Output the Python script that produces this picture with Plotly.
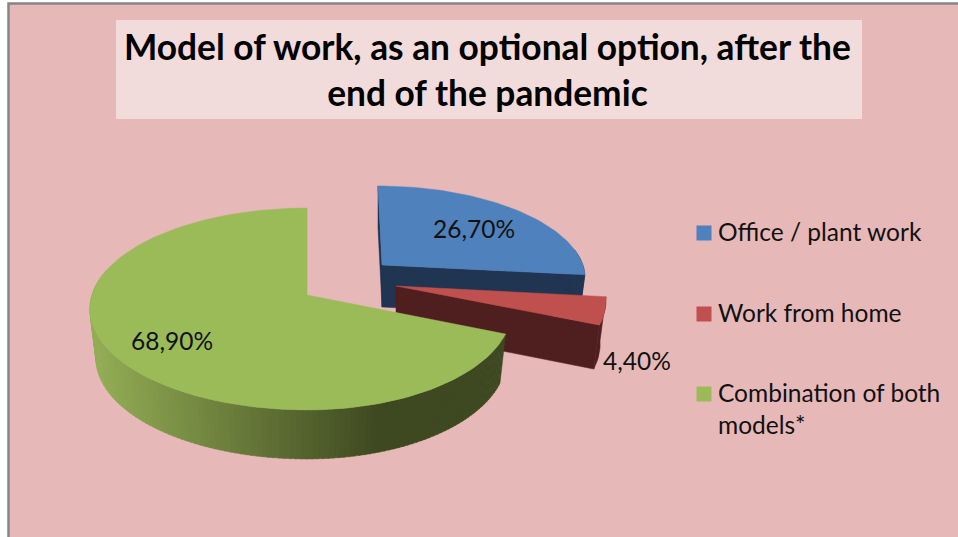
import math
import plotly.graph_objects as go

# ---- data ----
categories = ["Office / plant work", "Work from home", "Combination of both<br>models*"]
values = [26.7, 4.4, 68.9]
title_text = "Model of work, as an optional option, after the<br>end of the pandemic"

# ---- style ----
FONT = "Lato"
TOP = ["#4F81BD", "#C0504D", "#9BBB59"]
WALL = ["#1F3552", "#4F1E1E", "#3F4A21"]
GRAD_L = (146, 173, 84)
GRAD_R = (63, 73, 33)
GEOM = [
    dict(cx=382, cy=265, rxl=201, rxr=201, ry=90, lean=4, drop=42),
    dict(cx=396, cy=286, rxl=208, rxr=208, ry=99, lean=0, drop=44),
    dict(cx=307, cy=295, rxl=215, rxr=203, ry=99, lean=0, drop=49),
]
K = 0.1387
SHRINK = 0.972


def proj(theta, g, down=0.0):
    t = math.radians(theta)
    u, v = math.sin(t), math.cos(t)
    w = 1 + K * v
    rx = g["rxl"] if u < 0 else g["rxr"]
    if down:
        rx *= SHRINK
    return g["cx"] + rx * u / w - g["lean"] * max(v, 0), g["cy"] - g["ry"] * v / w + down


def arc(a, b, g, down=0.0):
    n = max(2, int(abs(b - a) / 1.5))
    return [proj(a + (b - a) * i / n, g, down) for i in range(n + 1)]


def poly(pts, color):
    return go.Scatter(
        x=[p[0] for p in pts] + [pts[0][0]], y=[p[1] for p in pts] + [pts[0][1]],
        mode="lines", fill="toself", fillcolor=color,
        line=dict(color=color, width=0.5), hoverinfo="skip", showlegend=False,
    )


fig = go.Figure()
total = sum(values)
start = 0.0
spans = []
for v in values:
    spans.append((start, start + v / total * 360))
    start += v / total * 360

for i, (a, b) in enumerate(spans):
    g = GEOM[i]
    d = g["drop"]
    tip = (g["cx"], g["cy"])
    tipd = (g["cx"], g["cy"] + d)
    if i < 2:
        p0, p1 = proj(a, g), proj(b, g)
        # far cut wall and near cut wall
        if i == 0:
            fig.add_trace(poly([p0, tip, tipd, proj(a, g, d)], WALL[i]))
        fig.add_trace(poly([tip, p1, proj(b, g, d), tipd], WALL[i]))
        # outer wall
        fig.add_trace(poly(arc(a + 80 if i == 0 else a, b, g) + arc(b, a + 80 if i == 0 else a, g, d), WALL[i]))
    else:
        # shaded rim, split in strips
        end = 285
        n = 130
        for s in range(n):
            t0 = a + (end - a) * s / n
            t1 = a + (end - a) * (s + 1) / n + 0.3
            mid = proj((t0 + t1) / 2, g)[0]
            f = min(1, max(0, (mid - 95) / (377 - 95)))
            col = "rgb(%d,%d,%d)" % tuple(round(GRAD_L[c] + (GRAD_R[c] - GRAD_L[c]) * f) for c in range(3))
            fig.add_trace(poly([proj(t0, g), proj(t1, g), proj(t1, g, d), proj(t0, g, d)], col))
    fig.add_trace(poly([tip] + arc(a, b, g), TOP[i]))

# legend swatches
LEG_Y = [233, 314, 394]
for i, c in enumerate(categories):
    fig.add_trace(go.Scatter(
        x=[704], y=[LEG_Y[i]], mode="markers", name=c.replace("<br>", " "),
        marker=dict(symbol="square", size=15, color=TOP[i]), showlegend=False, hoverinfo="skip",
    ))

annotations = []
for i, c in enumerate(categories):
    annotations.append(dict(x=716, y=LEG_Y[i] - 18, text=c, xref="x", yref="y", xanchor="left", yanchor="top",
                            align="left", showarrow=False, font=dict(family=FONT, size=24.5, color="#111111")))
LABEL_POS = [(474, 228), (637, 360), (172, 340)]
for i, v in enumerate(values):
    annotations.append(dict(x=LABEL_POS[i][0], y=LABEL_POS[i][1], text=f"{v:.2f}".replace(".", ",") + "%",
                            xref="x", yref="y", showarrow=False, font=dict(family=FONT, size=24.5, color="#111111")))
annotations.append(dict(x=487, y=69, text="<b>" + title_text + "</b>", xref="x", yref="y", showarrow=False,
                        align="center", font=dict(family=FONT, size=35.3, color="#000000")))

fig.update_layout(
    width=958, height=537, autosize=False, margin=dict(l=0, r=0, t=0, b=0),
    paper_bgcolor="#FFFFFF", plot_bgcolor="#FFFFFF", showlegend=False,
    xaxis=dict(range=[0, 958], visible=False, fixedrange=True),
    yaxis=dict(range=[537, 0], visible=False, fixedrange=True),
    annotations=annotations,
    shapes=[
        dict(type="rect", xref="x", yref="y", x0=8.5, y0=3.5, x1=975, y1=550, layer="below",
             fillcolor="#E6B8B7", line=dict(color="#868686", width=2.5)),
        dict(type="rect", xref="x", yref="y", x0=116, y0=20, x1=862, y1=119, layer="below",
             fillcolor="#F2DCDB", line=dict(width=0)),
    ],
)
fig.write_html("out.html", config=dict(displayModeBar=False),
               post_script="document.body.style.margin='0';document.body.style.overflow='hidden';")
